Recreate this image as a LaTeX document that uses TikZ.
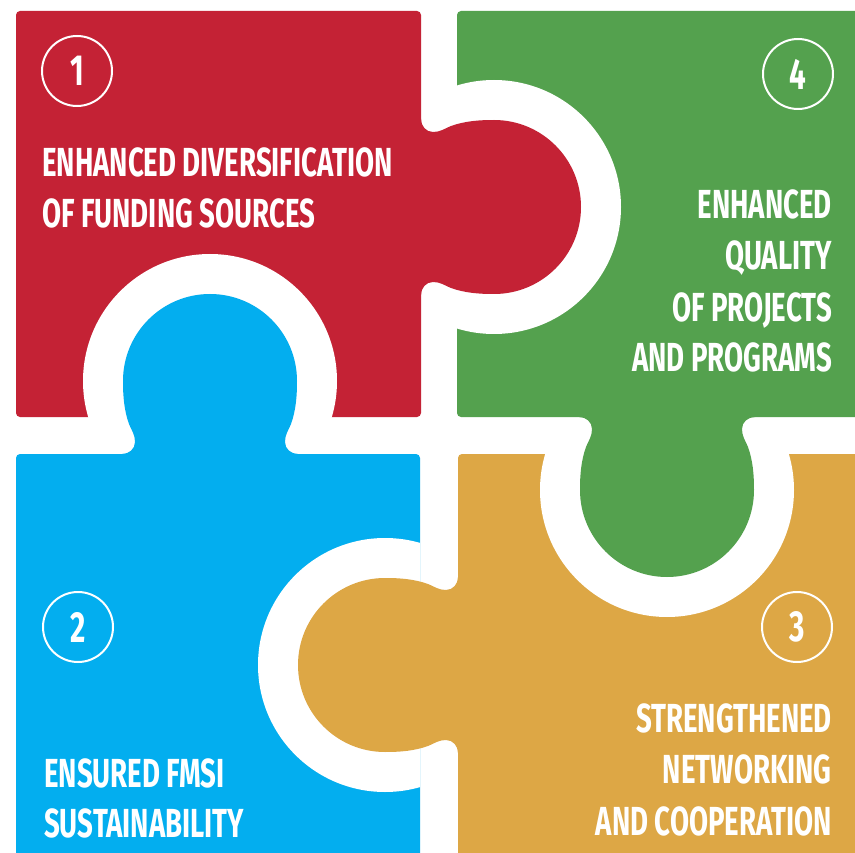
\documentclass[tikz,border=0pt]{standalone}
\usepackage{fontspec}
\usepackage{tikz}
\newfontfamily\puzzlefont{Fira Sans}[FakeStretch=0.68]
\definecolor{pzred}{HTML}{C42235}
\definecolor{pzgreen}{HTML}{54A14E}
\definecolor{pzblue}{HTML}{03AEEF}
\definecolor{pzorange}{HTML}{DDA745}
\tikzset{
  piecetext/.style={text=white, inner sep=0pt, font=\puzzlefont\bfseries\fontsize{40.6}{48}\selectfont},
  numcircle/.style={circle, draw=white, line width=2pt, minimum size=70pt, inner sep=0pt,
    text=white, font=\puzzlefont\bfseries\fontsize{43.5}{48}\selectfont}
}
% tab of a piece: colour, point on the edge, direction
\newcommand{\drawtab}[3]{%
  \fill[#1, shift={#2}, rotate=#3] (-3,-88) -- (0,-88) .. controls (0,-81) and (5,-75) .. (12,-75)
    .. controls (19,-75) and (23,-78) .. (30,-81) .. controls (44,-86) and (58,-87) .. (73,-87)
    arc[start angle=-90, end angle=90, radius=87]
    .. controls (58,87) and (44,86) .. (30,81) .. controls (23,78) and (19,75) .. (12,75)
    .. controls (5,75) and (0,81) .. (0,88) -- (-3,88) -- cycle;}

\begin{document}
\begin{tikzpicture}[x=1pt, y=1pt]
  \useasboundingbox (0,0) rectangle (855,-853);
  \clip (0,0) rectangle (855,-853);
  \fill[white] (0,0) rectangle (855,-853);

  % pieces
  \fill[pzred, rounded corners=4pt] (16,-11) rectangle (421,-417);
  \fill[pzgreen, rounded corners=4pt] (457,-11) rectangle (870,-417);
  \fill[pzblue, rounded corners=4pt] (16,-454) rectangle (420,-870);
  \fill[pzorange, rounded corners=4pt] (458,-454) rectangle (870,-870);

  % holes
  \begin{scope}
    \clip (457,-11) rectangle (870,-417);
    \fill[white] (494,-207) circle (127);
  \end{scope}
  \begin{scope}
    \clip (16,-11) rectangle (421,-417);
    \fill[white] (210,-381) circle (127);
  \end{scope}
  \begin{scope}
    \clip (16,-454) rectangle (420,-870);
    \fill[white] (385,-665) circle (127);
  \end{scope}
  \begin{scope}
    \clip (458,-454) rectangle (870,-870);
    \fill[white] (667,-490) circle (127);
  \end{scope}

  % tabs
  \drawtab{pzred}{(421,-207)}{0}
  \drawtab{pzblue}{(210,-454)}{90}
  \drawtab{pzorange}{(458,-665)}{180}
  \drawtab{pzgreen}{(667,-417)}{-90}

  % numbers
  \node[numcircle] (n1) at (77,-71) {1};
  \node[numcircle] (n4) at (798,-74) {4};
  \node[numcircle] (n2) at (78,-627) {2};
  \node[numcircle] (n3) at (797,-627) {3};

  % texts
  \node[piecetext, anchor=base west] (r1) at (42,-177) {ENHANCED DIVERSIFICATION};
  \node[piecetext, anchor=base west] (r2) at (42,-228) {OF FUNDING SOURCES};

  \node[piecetext, anchor=base east] (g1) at (832,-219) {ENHANCED};
  \node[piecetext, anchor=base east] (g2) at (832,-270) {QUALITY};
  \node[piecetext, anchor=base east] (g3) at (832,-322) {OF PROJECTS};
  \node[piecetext, anchor=base east] (g4) at (832,-372) {AND PROGRAMS};

  \node[piecetext, anchor=base west] (b1) at (44,-787) {ENSURED FMSI};
  \node[piecetext, anchor=base west] (b2) at (44,-837) {SUSTAINABILITY};

  \node[piecetext, anchor=base east] (o1) at (832,-732) {STRENGTHENED};
  \node[piecetext, anchor=base east] (o2) at (832,-783) {NETWORKING};
  \node[piecetext, anchor=base east] (o3) at (832,-835) {AND COOPERATION};
\end{tikzpicture}
\end{document}
